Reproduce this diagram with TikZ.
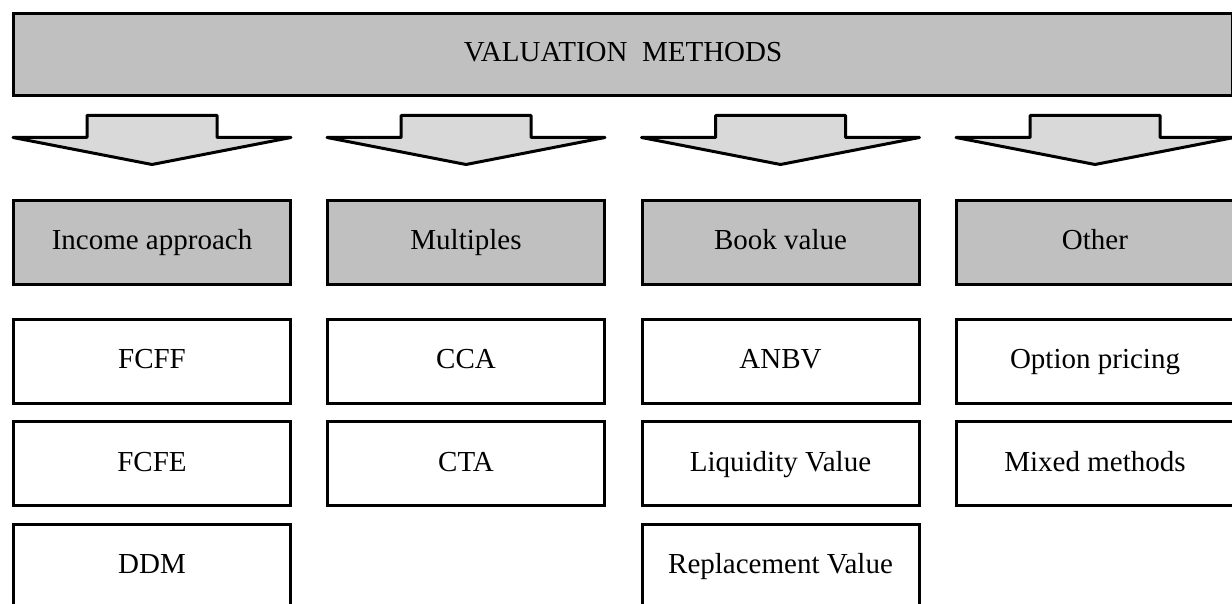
\documentclass[tikz,border=0pt]{standalone}
\usepackage{fontspec}
\setmainfont{Liberation Serif}
\definecolor{boxgray}{HTML}{C0C0C0}
\definecolor{arrowgray}{HTML}{D9D9D9}
\begin{document}
\begin{tikzpicture}[x=1pt,y=-1pt,
  catbox/.style={draw=black, line width=3pt, fill=boxgray, minimum width=277pt,
    minimum height=84pt, inner sep=0pt, text height=20pt, text depth=5pt,
    font=\fontsize{29}{34}\selectfont},
  itembox/.style={catbox, fill=white},
  blockarrow/.style={draw=black, line width=3pt, fill=arrowgray, line join=round},
  downarr/.pic={
    \draw[blockarrow] (-139,137.5) -- (-65,137.5) -- (-65,115.5) -- (65,115.5)
      -- (65,137.5) -- (139,137.5) -- (0,164.5) -- cycle;
  }]
\useasboundingbox (0,0) rectangle (1232,604);
\clip (0,0) rectangle (1232,604);
% title
\node[catbox, minimum width=1219pt, minimum height=82pt] (top) at (623,54.5) {VALUATION\ \ METHODS};
% block arrows
\pic at (152,0) {downarr};
\pic at (466,0) {downarr};
\pic at (780.5,0) {downarr};
\pic at (1095,0) {downarr};
% categories
\node[catbox] (inc) at (152,242.5) {Income approach};
\node[catbox] (mul) at (466,242.5) {Multiples};
\node[catbox] (book) at (780.5,242.5) {Book value};
\node[catbox] (oth) at (1095,242.5) {Other};
% items
\node[itembox] (fcff) at (152,361) {FCFF};
\node[itembox] (fcfe) at (152,463.5) {FCFE};
\node[itembox] (ddm) at (152,566) {DDM};
\node[itembox] (cca) at (466,361) {CCA};
\node[itembox] (cta) at (466,463.5) {CTA};
\node[itembox] (anbv) at (780.5,361) {ANBV};
\node[itembox] (liq) at (780.5,463.5) {Liquidity Value};
\node[itembox] (rep) at (780.5,566) {Replacement Value};
\node[itembox] (opt) at (1095,361) {Option pricing};
\node[itembox] (mix) at (1095,463.5) {Mixed methods};
\end{tikzpicture}
\end{document}
